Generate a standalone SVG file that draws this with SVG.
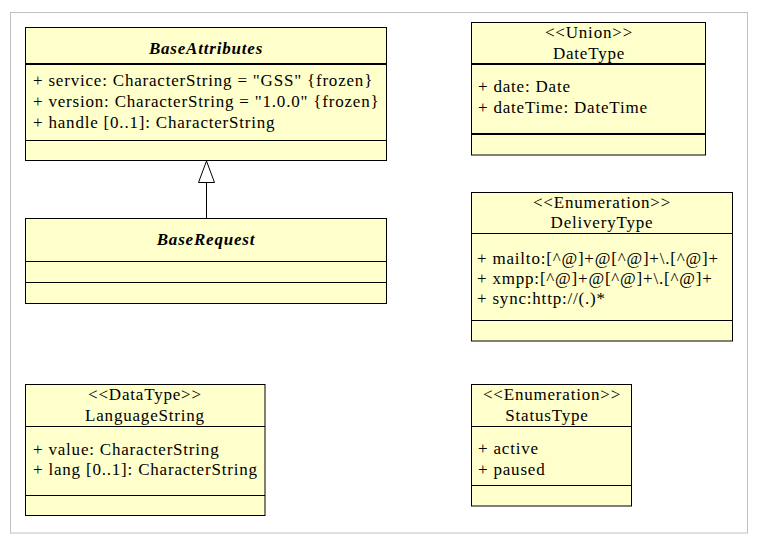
<svg xmlns="http://www.w3.org/2000/svg" width="760" height="546" viewBox="0 0 760 546">
<style>
.frame{fill:#ffffff;stroke:#c0c0c0;stroke-width:1}
.box{fill:#ffffcc;stroke:#000000;stroke-width:1}
.sep{stroke:#000000;stroke-width:1}
.thick{stroke:#000000;stroke-width:2}
text{font-family:"Liberation Serif","Times New Roman",serif;font-size:17px;fill:#000000;letter-spacing:0.8px}
.title{font-weight:bold;font-style:italic;text-anchor:middle}
.name{text-anchor:middle}
.edge{stroke:#000000;stroke-width:1;fill:none}
.tri{fill:#ffffff;stroke:#000000;stroke-width:1}
</style>
<rect class="frame" x="10.5" y="12.5" width="737" height="520.5"/>

<g id="BaseAttributes">
<rect class="box" x="25.5" y="27.5" width="361" height="133"/>
<line class="thick" x1="25.5" y1="64" x2="386.5" y2="64"/>
<line class="sep" x1="25.5" y1="140.5" x2="386.5" y2="140.5"/>
<text class="title" x="206" y="54">BaseAttributes</text>
<text x="33" y="86">+ service: CharacterString = "GSS" {frozen}</text>
<text x="33" y="107">+ version: CharacterString = "1.0.0" {frozen}</text>
<text x="33" y="128">+ handle [0..1]: CharacterString</text>
</g>

<g id="BaseRequest">
<rect class="box" x="25.5" y="218.5" width="361" height="85"/>
<line class="sep" x1="25.5" y1="261.5" x2="386.5" y2="261.5"/>
<line class="sep" x1="25.5" y1="282.5" x2="386.5" y2="282.5"/>
<text class="title" x="206" y="245">BaseRequest</text>
</g>

<g id="DateType">
<rect class="box" x="471.5" y="22.5" width="234" height="132.5"/>
<line class="thick" x1="471.5" y1="64" x2="705.5" y2="64"/>
<line class="thick" x1="471.5" y1="134" x2="705.5" y2="134"/>
<text class="name" x="589" y="38">&lt;&lt;Union&gt;&gt;</text>
<text class="name" x="589" y="59">DateType</text>
<text x="478" y="92">+ date: Date</text>
<text x="478" y="113">+ dateTime: DateTime</text>
</g>

<g id="DeliveryType">
<rect class="box" x="471.5" y="192.5" width="261" height="148.5"/>
<line class="sep" x1="471.5" y1="233.5" x2="732.5" y2="233.5"/>
<line class="sep" x1="471.5" y1="320.5" x2="732.5" y2="320.5"/>
<text class="name" x="602" y="208">&lt;&lt;Enumeration&gt;&gt;</text>
<text class="name" x="602" y="228">DeliveryType</text>
<text x="477" y="264">+ mailto:[^@]+@[^@]+\.[^@]+</text>
<text x="477" y="284">+ xmpp:[^@]+@[^@]+\.[^@]+</text>
<text x="477" y="304">+ sync:http://(.)*</text>
</g>

<g id="LanguageString">
<rect class="box" x="25.5" y="384.5" width="239.5" height="131"/>
<line class="sep" x1="25.5" y1="426.5" x2="265" y2="426.5"/>
<line class="sep" x1="25.5" y1="495.5" x2="265" y2="495.5"/>
<text class="name" x="145" y="400">&lt;&lt;DataType&gt;&gt;</text>
<text class="name" x="145" y="421">LanguageString</text>
<text x="33" y="455">+ value: CharacterString</text>
<text x="33" y="475">+ lang [0..1]: CharacterString</text>
</g>

<g id="StatusType">
<rect class="box" x="471.5" y="384.5" width="160" height="121.5"/>
<line class="sep" x1="471.5" y1="426.5" x2="631.5" y2="426.5"/>
<line class="sep" x1="471.5" y1="485.5" x2="631.5" y2="485.5"/>
<text class="name" x="552" y="400">&lt;&lt;Enumeration&gt;&gt;</text>
<text class="name" x="547" y="421">StatusType</text>
<text x="478" y="454">+ active</text>
<text x="478" y="475">+ paused</text>
</g>

<g id="connectors">
<line class="edge" x1="206.5" y1="182.5" x2="206.5" y2="218.5"/>
<polygon class="tri" points="206.5,161 198.5,182.5 214.5,182.5"/>
</g>
</svg>
